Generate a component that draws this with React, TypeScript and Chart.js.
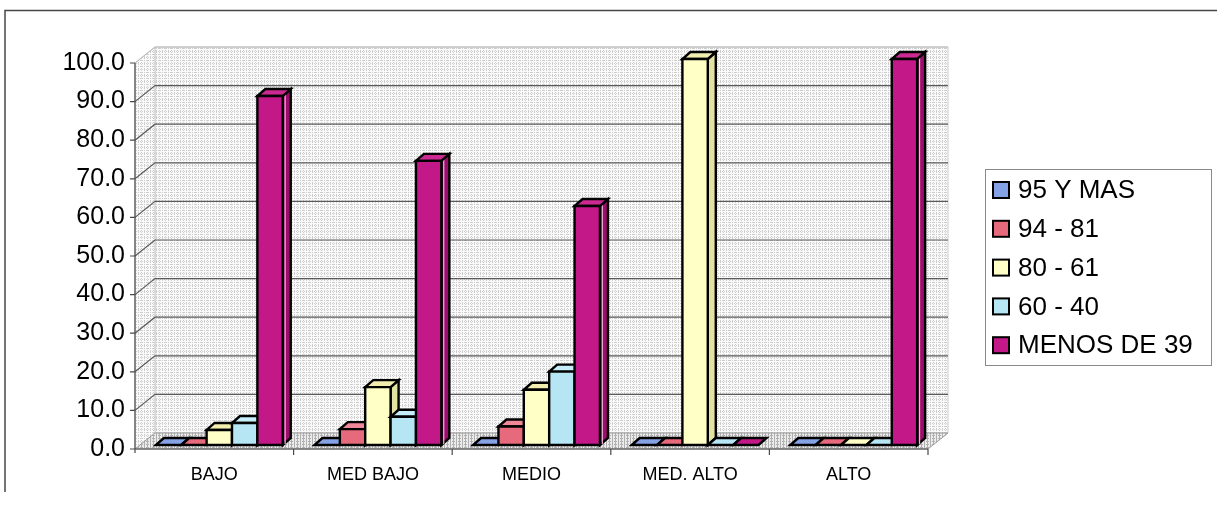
import React, { useEffect, useRef } from "react";
import { Chart, registerables } from "chart.js";

Chart.register(...registerables);

const categories = ["BAJO", "MED BAJO", "MEDIO", "MED. ALTO", "ALTO"];
const seriesNames = ["95 Y MAS", "94 - 81", "80 - 61", "60 - 40", "MENOS DE 39"];
const s95yMas = [0, 0, 0, 0, 0];
const s94a81 = [0, 4.1, 4.8, 0, 0];
const s80a61 = [3.9, 15.0, 14.3, 100, 0];
const s60a40 = [5.7, 7.3, 19.0, 0, 0];
const sMenos39 = [90.4, 73.6, 61.9, 0, 100];
const seriesData = [s95yMas, s94a81, s80a61, s60a40, sMenos39];
const yTickValues = [0, 10, 20, 30, 40, 50, 60, 70, 80, 90, 100];

const frontColors = ["#86a2e6", "#e66a7c", "#ffffc6", "#b6e6f4", "#c21888"];
const sideColors = ["#5c7cc4", "#c0405a", "#e2e2a2", "#8ec6dc", "#9c0e6c"];
const topColors = ["#a0b8f0", "#f08898", "#f2eeb0", "#c6eefa", "#cc2a92"];

const FONT = "'Liberation Sans', Arial, Helvetica, sans-serif";
const WALL_DX = 20;
const WALL_DY = -16;
const BAR_OX = 5;
const BAR_OY = -4;
const BAR_DX = 8;
const BAR_DY = -7;

function makePattern(bg: string, dot: string, step: number) {
  const c = document.createElement("canvas");
  c.width = 6;
  c.height = 6;
  const g = c.getContext("2d")!;
  g.fillStyle = bg;
  g.fillRect(0, 0, 6, 6);
  g.fillStyle = dot;
  for (let x = 0; x < 6; x += 2) {
    g.fillRect(x, 0, 1, 1);
    g.fillRect(x, 3, 1, 1);
  }
  for (let y = 0; y < 6; y += step) {
    g.fillRect(0, y, 1, 1);
    g.fillRect(3, y, 1, 1);
  }
  return g.createPattern(c, "repeat")!;
}

function poly(ctx: CanvasRenderingContext2D, pts: number[][], fill: any) {
  ctx.beginPath();
  ctx.moveTo(pts[0][0], pts[0][1]);
  for (let i = 1; i < pts.length; i++) ctx.lineTo(pts[i][0], pts[i][1]);
  ctx.closePath();
  ctx.fillStyle = fill;
  ctx.fill();
  ctx.stroke();
}

export default function App() {
  const ref = useRef<HTMLCanvasElement | null>(null);

  useEffect(() => {
    const canvas = ref.current;
    if (!canvas) return;
    const wallPat = makePattern("#fafafa", "#cdcdcd", 2);
    const floorPat = makePattern("#ececec", "#b0b0b0", 1);

    const plugin = {
      id: "pseudo3d",
      beforeDatasetsDraw(chart: any) {
        const ctx: CanvasRenderingContext2D = chart.ctx;
        const { left, right, top, bottom } = chart.chartArea;
        const ys = chart.scales.y;
        const xs = chart.scales.x;
        ctx.save();
        ctx.lineWidth = 1;
        ctx.strokeStyle = "#cccccc";
        poly(ctx, [[left + WALL_DX, top + WALL_DY], [right + WALL_DX, top + WALL_DY], [right + WALL_DX, bottom + WALL_DY], [left + WALL_DX, bottom + WALL_DY]], wallPat);
        poly(ctx, [[left, top], [left + WALL_DX, top + WALL_DY], [left + WALL_DX, bottom + WALL_DY], [left, bottom]], wallPat);
        ctx.strokeStyle = "#9a9a9a";
        poly(ctx, [[left, bottom], [right, bottom], [right + WALL_DX, bottom + WALL_DY], [left + WALL_DX, bottom + WALL_DY]], floorPat);
        for (const v of yTickValues) {
          const py = ys.getPixelForValue(v);
          if (v === 0) continue;
          ctx.strokeStyle = v === 100 ? "#b8b8b8" : "#5a5a5a";
          ctx.lineWidth = v === 100 ? 1 : 1.2;
          ctx.beginPath();
          ctx.moveTo(left, py);
          ctx.lineTo(left + WALL_DX, py + WALL_DY);
          ctx.lineTo(right + WALL_DX, py + WALL_DY);
          ctx.stroke();
        }
        ctx.strokeStyle = "#4a4a4a";
        ctx.lineWidth = 1.2;
        ctx.beginPath();
        ctx.moveTo(left, top);
        ctx.lineTo(left, bottom + 4);
        ctx.moveTo(left, bottom);
        ctx.lineTo(right, bottom);
        for (const v of yTickValues) {
          const py = ys.getPixelForValue(v);
          ctx.moveTo(left - 5, py);
          ctx.lineTo(left, py);
        }
        const n = categories.length;
        for (let i = 1; i <= n; i++) {
          const px = (xs.getPixelForValue(i - 1) + (i < n ? xs.getPixelForValue(i) : 2 * xs.getPixelForValue(i - 1) - xs.getPixelForValue(i - 2))) / 2;
          ctx.moveTo(px, bottom);
          ctx.lineTo(px, bottom + 6);
        }
        ctx.stroke();
        ctx.restore();
      },
      afterDatasetsDraw(chart: any) {
        const ctx: CanvasRenderingContext2D = chart.ctx;
        ctx.save();
        ctx.strokeStyle = "#000";
        ctx.lineWidth = 2.4;
        ctx.lineJoin = "miter";
        const metas = chart.data.datasets.map((_: any, i: number) => chart.getDatasetMeta(i));
        for (let c = 0; c < categories.length; c++) {
          for (let s = 0; s < metas.length; s++) {
            const el = metas[s].data[c];
            const p = el.getProps(["x", "y", "base", "width"], true);
            const L = p.x - p.width / 2 + BAR_OX;
            const R = p.x + p.width / 2 + BAR_OX;
            const T = Math.min(p.y, p.base) + BAR_OY;
            const B = Math.max(p.y, p.base) + BAR_OY;
            if (B - T > 0.5) {
              poly(ctx, [[R, T], [R + BAR_DX, T + BAR_DY], [R + BAR_DX, B + BAR_DY], [R, B]], sideColors[s]);
              if (s === 4) {
                ctx.save();
                ctx.strokeStyle = "#f2b4dc";
                ctx.lineWidth = 1.2;
                ctx.beginPath();
                ctx.moveTo(R + 2.4, T + BAR_DY * 0.3);
                ctx.lineTo(R + 2.4, B - 1);
                ctx.stroke();
                ctx.restore();
              }
              poly(ctx, [[L, T], [R, T], [R + BAR_DX, T + BAR_DY], [L + BAR_DX, T + BAR_DY]], topColors[s]);
              poly(ctx, [[L, T], [R, T], [R, B], [L, B]], frontColors[s]);
            } else {
              poly(ctx, [[L, B], [R, B], [R + BAR_DX, B + BAR_DY], [L + BAR_DX, B + BAR_DY]], frontColors[s]);
            }
          }
        }
        ctx.restore();
      },
      afterDraw(chart: any) {
        const ctx: CanvasRenderingContext2D = chart.ctx;
        ctx.save();
        ctx.strokeStyle = "#474747";
        ctx.lineWidth = 1.5;
        ctx.beginPath();
        ctx.moveTo(1217, 10.5);
        ctx.lineTo(5, 10.5);
        ctx.lineTo(5, 492);
        ctx.stroke();
        ctx.strokeStyle = "#8a8a8a";
        ctx.lineWidth = 1;
        ctx.strokeRect(985.5, 169.5, 226, 196);
        ctx.font = `26px ${FONT}`;
        ctx.textBaseline = "middle";
        ctx.textAlign = "left";
        for (let i = 0; i < seriesNames.length; i++) {
          const cy = 190 + i * 38.8;
          ctx.fillStyle = frontColors[i];
          ctx.fillRect(993, cy - 8, 16, 16);
          ctx.strokeStyle = "#000";
          ctx.lineWidth = 2;
          ctx.strokeRect(993, cy - 8, 16, 16);
          ctx.fillStyle = "#000";
          ctx.fillText(seriesNames[i], 1018, cy + 1);
        }
        ctx.restore();
      },
    };

    const chart = new Chart(canvas, {
      type: "bar",
      data: {
        labels: categories,
        datasets: seriesData.map((d, i) => ({
          label: seriesNames[i],
          data: d,
          backgroundColor: "rgba(0,0,0,0)",
          borderWidth: 0,
          categoryPercentage: 0.8,
          barPercentage: 1.0,
        })),
      },
      options: {
        responsive: false,
        animation: false,
        events: [],
        layout: { padding: { left: 0, top: 63, right: 289, bottom: 24 } },
        plugins: {
          legend: { display: false },
          tooltip: { enabled: false },
          title: { display: false },
        },
        scales: {
          x: {
            grid: { display: false, drawTicks: false },
            border: { display: false },
            ticks: { color: "#000", font: { family: FONT, size: 18 }, padding: 15, maxRotation: 0, autoSkip: false },
            afterFit: (s: any) => {
              s.height = 40;
            },
          },
          y: {
            min: 0,
            max: 100,
            grid: { display: false, drawTicks: false },
            border: { display: false },
            ticks: {
              stepSize: 10,
              color: "#000",
              font: { family: FONT, size: 25 },
              padding: 10,
              callback: (v: any) => Number(v).toFixed(1),
            },
            afterFit: (s: any) => {
              s.width = 135;
            },
          },
        },
      } as any,
      plugins: [plugin],
    });
    return () => chart.destroy();
  }, []);

  return (
    <div style={{ position: "fixed", left: 0, top: 0, width: 1217, height: 513, background: "#fff" }}>
      <canvas ref={ref} width={1217} height={513} style={{ display: "block", width: 1217, height: 513 }} />
    </div>
  );
}
